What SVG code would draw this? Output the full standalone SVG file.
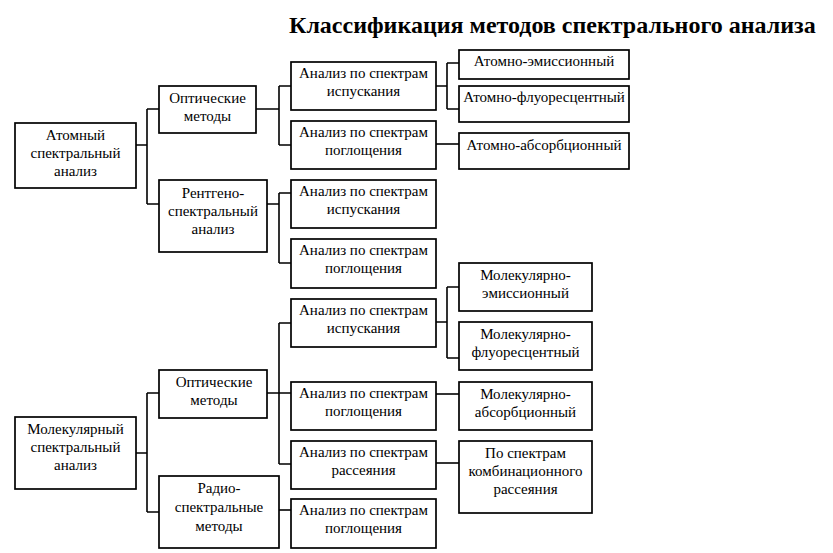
<svg xmlns="http://www.w3.org/2000/svg" width="833" height="553" viewBox="0 0 833 553">
<style>
rect{fill:#fff;stroke:#000;stroke-width:1.7}
text{font-family:"Liberation Serif","Times New Roman",serif;font-size:15px;fill:#000;text-anchor:middle}
.title{font-size:24px;font-weight:bold;text-anchor:start}
#connectors path{fill:none;stroke:#000;stroke-width:1.6}
</style>
<rect x="0" y="0" width="833" height="553" style="stroke:none;fill:#fff"/>
<text class="title" x="289" y="33">Классификация методов спектрального анализа</text>
<g id="connectors">
<path d="M136,145H147M147,109V204M147,109H159M147,204H159"/>
<path d="M256,109H279M279,86V145M279,86H291M279,145H291"/>
<path d="M267,204H279M279,193V263M279,193H291M279,263H291"/>
<path d="M436,86H447M447,63V109M447,63H459M447,109H459"/>
<path d="M436,144H459"/>
<path d="M136,453H147M147,393V512M147,393H159M147,512H159"/>
<path d="M267,393H291M279,323V464M279,323H291M279,464H291"/>
<path d="M279,510H291"/>
<path d="M436,322H447M447,287V358M447,287H459M447,358H459"/>
<path d="M436,394H459"/>
<path d="M436,463H459"/>
</g>
<g id="atom"><rect x="15" y="123" width="121" height="65"/><text x="75.5" y="140">Атомный</text><text x="75.5" y="158">спектральный</text><text x="75.5" y="176">анализ</text></g>
<g id="opt1"><rect x="159" y="86" width="97" height="47"/><text x="207.5" y="103">Оптические</text><text x="207.5" y="121">методы</text></g>
<g id="rentgen"><rect x="159" y="180" width="108" height="72"/><text x="213" y="198">Рентгено-</text><text x="213" y="216">спектральный</text><text x="213" y="234">анализ</text></g>
<g id="isp1"><rect x="291" y="62" width="145" height="48"/><text x="363.5" y="78">Анализ по спектрам</text><text x="363.5" y="96">испускания</text></g>
<g id="pog1"><rect x="291" y="121" width="145" height="48"/><text x="363.5" y="137">Анализ по спектрам</text><text x="363.5" y="155">поглощения</text></g>
<g id="isp2"><rect x="291" y="180" width="145" height="48"/><text x="363.5" y="196">Анализ по спектрам</text><text x="363.5" y="214">испускания</text></g>
<g id="pog2"><rect x="291" y="239" width="145" height="49"/><text x="363.5" y="255">Анализ по спектрам</text><text x="363.5" y="273">поглощения</text></g>
<g id="ae"><rect x="459" y="50" width="170" height="29"/><text x="544" y="66">Атомно-эмиссионный</text></g>
<g id="af"><rect x="459" y="86" width="170" height="36"/><text x="544" y="102">Атомно-флуоресцентный</text></g>
<g id="aa"><rect x="459" y="133" width="170" height="36"/><text x="544" y="150">Атомно-абсорбционный</text></g>
<g id="mol"><rect x="15" y="417" width="121" height="72"/><text x="75.5" y="434">Молекулярный</text><text x="75.5" y="452">спектральный</text><text x="75.5" y="470">анализ</text></g>
<g id="opt2"><rect x="159" y="370" width="108" height="48"/><text x="214" y="387">Оптические</text><text x="214" y="405">методы</text></g>
<g id="radio"><rect x="159" y="476" width="120" height="72"/><text x="219" y="493">Радио-</text><text x="219" y="512">спектральные</text><text x="219" y="531">методы</text></g>
<g id="isp3"><rect x="291" y="299" width="145" height="48"/><text x="363.5" y="315">Анализ по спектрам</text><text x="363.5" y="333">испускания</text></g>
<g id="pog3"><rect x="291" y="382" width="145" height="48"/><text x="363.5" y="398">Анализ по спектрам</text><text x="363.5" y="416">поглощения</text></g>
<g id="ras"><rect x="291" y="441" width="145" height="48"/><text x="363.5" y="457">Анализ по спектрам</text><text x="363.5" y="475">рассеяния</text></g>
<g id="pog4"><rect x="291" y="499" width="145" height="49"/><text x="363.5" y="515">Анализ по спектрам</text><text x="363.5" y="533">поглощения</text></g>
<g id="me"><rect x="459" y="263" width="133" height="48"/><text x="525.5" y="280">Молекулярно-</text><text x="525.5" y="298">эмиссионный</text></g>
<g id="mf"><rect x="459" y="322" width="133" height="48"/><text x="525.5" y="339">Молекулярно-</text><text x="525.5" y="357">флуоресцентный</text></g>
<g id="mab"><rect x="459" y="382" width="133" height="48"/><text x="525.5" y="399">Молекулярно-</text><text x="525.5" y="417">абсорбционный</text></g>
<g id="comb"><rect x="459" y="441" width="133" height="72"/><text x="525.5" y="458">По спектрам</text><text x="525.5" y="476">комбинационного</text><text x="525.5" y="494">рассеяния</text></g>
</svg>
